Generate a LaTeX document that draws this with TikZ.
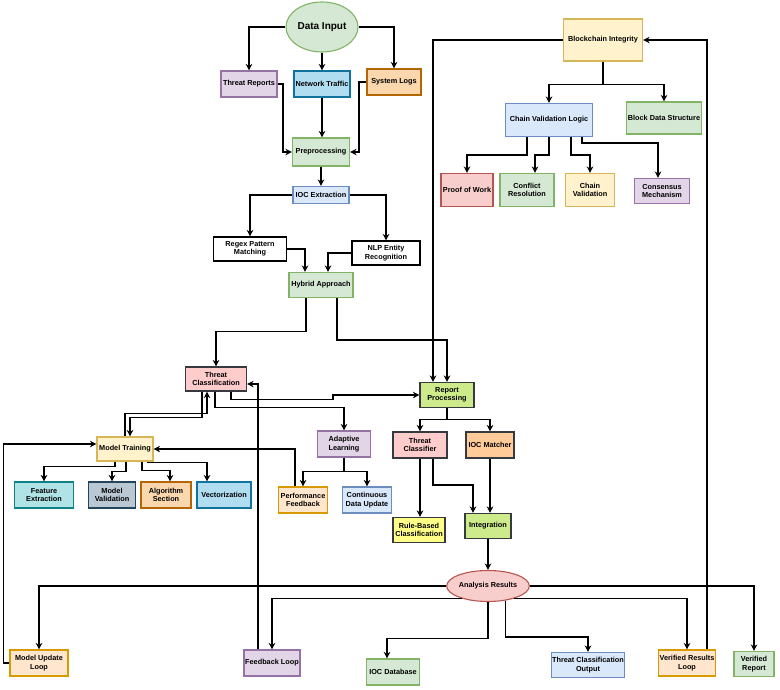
\documentclass[tikz,border=0pt]{standalone}
\usepackage{fontspec}
\setmainfont{Liberation Sans}
\usepackage{tikz}
\usepackage{xcolor}
\usetikzlibrary{shapes.geometric, arrows.meta, calc}
\definecolor{GreenFill}{HTML}{D5E8D4}
\definecolor{GreenLine}{HTML}{82B366}
\definecolor{PurpleFill}{HTML}{E1D5E7}
\definecolor{PurpleLine}{HTML}{9673A6}
\definecolor{SkyFill}{HTML}{B1DDF0}
\definecolor{SkyLine}{HTML}{10739E}
\definecolor{BlueFill}{HTML}{DAE8FC}
\definecolor{BlueLine}{HTML}{6C8EBF}
\definecolor{OrangeFill}{HTML}{FAD7AC}
\definecolor{OrangeLine}{HTML}{B46504}
\definecolor{GoldFill}{HTML}{FFF2CC}
\definecolor{GoldLine}{HTML}{D6B656}
\definecolor{AmberFill}{HTML}{FFE6CC}
\definecolor{AmberLine}{HTML}{D79B00}
\definecolor{RedFill}{HTML}{F8CECC}
\definecolor{RedLine}{HTML}{B85450}
\definecolor{PinkFill}{HTML}{FFCCCC}
\definecolor{LimeFill}{HTML}{CDEB8B}
\definecolor{PeachFill}{HTML}{FFCC99}
\definecolor{LemonFill}{HTML}{FFFF88}
\definecolor{DarkLine}{HTML}{36393D}
\definecolor{TealFill}{HTML}{B0E3E6}
\definecolor{TealLine}{HTML}{0E8088}
\definecolor{SlateFill}{HTML}{BAC8D3}
\definecolor{SlateLine}{HTML}{23445D}

\tikzset{
  box/.style={draw, rectangle, line width=1.1pt, align=center, inner sep=1pt,
    font=\bfseries\fontsize{7.3}{8.4}\selectfont},
  oval/.style={box, ellipse, inner sep=0pt},
  sz/.style 2 args={minimum width=#1, minimum height=#2},
  gbox/.style={fill=GreenFill, draw=GreenLine},
  pbox/.style={fill=PurpleFill, draw=PurpleLine},
  sbox/.style={fill=SkyFill, draw=SkyLine},
  bbox/.style={fill=BlueFill, draw=BlueLine},
  obox/.style={fill=OrangeFill, draw=OrangeLine},
  ybox/.style={fill=GoldFill, draw=GoldLine},
  abox/.style={fill=AmberFill, draw=AmberLine},
  rbox/.style={fill=RedFill, draw=RedLine},
  kbox/.style={fill=PinkFill, draw=DarkLine},
  lbox/.style={fill=LimeFill, draw=DarkLine},
  cbox/.style={fill=PeachFill, draw=DarkLine},
  mbox/.style={fill=LemonFill, draw=DarkLine},
  tbox/.style={fill=TealFill, draw=TealLine},
  vbox/.style={fill=SlateFill, draw=SlateLine},
  wbox/.style={fill=white, draw=black},
  arr/.style={line width=1.5pt, -{Stealth[length=6.5pt,width=6.5pt]}}
}

\begin{document}
\begin{tikzpicture}[x=1pt, y=-1pt]
  \path[use as bounding box, fill=white] (0,0) rectangle (780,689);

  % input side
  \node[oval, gbox, sz={72pt}{50pt}, font=\bfseries\fontsize{10}{11}\selectfont] (in) at (322,27) {Data Input};
  \node[box, pbox, sz={56pt}{26pt}] (trep) at (249,84) {Threat Reports};
  \node[box, sbox, sz={56pt}{26pt}] (ntraf) at (322,84) {Network Traffic};
  \node[box, obox, sz={54pt}{26pt}] (slog) at (394,82) {System Logs};
  \node[box, gbox, sz={57pt}{28pt}] (prep) at (321,152) {Preprocessing};
  \node[box, bbox, sz={56pt}{17pt}] (iocx) at (321,195) {IOC Extraction};
  \node[box, wbox, sz={73pt}{24pt}] (regex) at (250,249) {Regex Pattern\\Matching};
  \node[box, wbox, sz={68pt}{24pt}] (nlp) at (386,253) {NLP Entity\\Recognition};
  \node[box, gbox, sz={64pt}{25pt}] (hyb) at (321,285) {Hybrid Approach};
  \node[box, kbox, sz={61pt}{24pt}] (tcls) at (216,379) {Threat\\Classification};
  \node[box, lbox, sz={54pt}{25pt}] (rproc) at (447,395) {Report\\Processing};

  % blockchain
  \node[box, ybox, sz={79pt}{42pt}] (bci) at (603,40) {Blockchain Integrity};
  \node[box, bbox, sz={87pt}{33pt}] (cvl) at (549,120) {Chain Validation Logic};
  \node[box, gbox, sz={73pt}{32pt}] (bds) at (664,118) {Block Data Structure};
  \node[box, rbox, sz={52pt}{33pt}] (pow) at (467,190) {Proof of Work};
  \node[box, gbox, sz={54pt}{33pt}] (cres) at (527,190) {Conflict\\Resolution};
  \node[box, ybox, sz={49pt}{33pt}] (cval) at (590,190) {Chain\\Validation};
  \node[box, pbox, sz={55pt}{25pt}] (cons) at (662,191) {Consensus\\Mechanism};

  % training and learning
  \node[box, ybox, sz={56pt}{24pt}] (mtrain) at (125,449) {Model Training};
  \node[box, tbox, sz={59pt}{26pt}] (fext) at (44,495) {Feature\\Extraction};
  \node[box, vbox, sz={47pt}{26pt}] (mval) at (112,495) {Model\\Validation};
  \node[box, obox, sz={50pt}{26pt}] (algo) at (166,495) {Algorithm\\Section};
  \node[box, sbox, sz={54pt}{26pt}] (vect) at (224,495) {Vectorization};
  \node[box, pbox, sz={53pt}{26pt}] (adapt) at (344,444) {Adaptive\\Learning};
  \node[box, abox, sz={49pt}{26pt}] (pfb) at (303,500) {Performance\\Feedback};
  \node[box, bbox, sz={49pt}{26pt}] (cdu) at (367,500) {Continuous\\Data Update};

  % report side
  \node[box, kbox, sz={54pt}{26pt}] (tcf) at (420,445) {Threat\\Classifier};
  \node[box, cbox, sz={48pt}{26pt}] (iocm) at (490,445) {IOC Matcher};
  \node[box, mbox, sz={52pt}{25pt}] (rbc) at (419,530) {Rule-Based\\Classification};
  \node[box, lbox, sz={46pt}{25pt}] (integ) at (488,526) {Integration};
  \node[oval, rbox, sz={77pt}{31pt}] (ares) at (488,586) {Analysis Results};

  % outputs
  \node[box, abox, sz={58pt}{26pt}] (mul) at (39,663) {Model Update\\Loop};
  \node[box, pbox, sz={56pt}{26pt}] (fbl) at (272,663) {Feedback Loop};
  \node[box, gbox, sz={53pt}{26pt}] (iocdb) at (393,672) {IOC Database};
  \node[box, bbox, sz={73pt}{25pt}] (tco) at (588,665) {Threat Classification\\Output};
  \node[box, abox, sz={57pt}{26pt}] (vrl) at (687,663) {Verified Results\\Loop};
  \node[box, gbox, sz={40pt}{25pt}] (vrep) at (754,664) {Verified\\Report};

  % connectors
  \draw[arr] (in.west) -| (trep.north);
  \draw[arr] (in.south) -- (ntraf.north);
  \draw[arr] (in.east) -| (slog.north);
  \draw[arr] (trep.east) -| ([xshift=-9]prep.west) -- (prep.west);
  \draw[arr] (ntraf.south) -- (ntraf.south |- prep.north);
  \draw[arr] (slog.west) -| ([xshift=9]prep.east) -- (prep.east);
  \draw[arr] (prep.south) -- (iocx.north);
  \draw[arr] (iocx.west) -| (regex.north);
  \draw[arr] (iocx.east) -| (nlp.north);
  \draw[arr] (regex.east) -| ([xshift=-16]hyb.north);
  \draw[arr] (nlp.west) -| ([xshift=7]hyb.north);
  \draw[arr] ([xshift=-15]hyb.south) |- ([yshift=35]tcls.north) -- (tcls.north);
  \draw[arr] ([xshift=16]hyb.south) |- ([yshift=42]rproc.north) -- (rproc.north);

  \draw[arr] (bci.west) -| ([xshift=-14]rproc.north);
  \draw[arr] (bci.south) -- ++(0,23) -| (cvl.north);
  \draw[arr] (bci.south) -- ++(0,23) -| (bds.north);
  \draw[arr] ([xshift=-22]cvl.south) |- ([yshift=18]pow.north) -- (pow.north);
  \draw[arr] (cvl.south) |- ([xshift=8,yshift=18]cres.north) -- ([xshift=8]cres.north);
  \draw[arr] ([xshift=22]cvl.south) |- ([yshift=18]cval.north) -- (cval.north);
  \draw[arr] ([xshift=33]cvl.south) |- ([xshift=-4,yshift=35]cons.north) -- ([xshift=-4]cons.north);

  \draw[arr] ([xshift=-14]tcls.south) |- ([xshift=5,yshift=19]mtrain.north) -- ([xshift=5]mtrain.north);
  \draw[arr] (mtrain.north) |- ([xshift=-9,yshift=-22]tcls.south) -- ([xshift=-9]tcls.south);
  \draw[arr] ([xshift=15]tcls.south) |- ++(102,8) |- (rproc.west);
  \draw[arr] ([xshift=-1]tcls.south) |- ([yshift=23]adapt.north) -- (adapt.north);
  \draw[arr] ([xshift=-14]fbl.north) |- ([yshift=-5]tcls.east);
  \draw[arr] (mul.west) -- ++(-6,0) |- ([yshift=5]mtrain.west);
  \draw[arr] ([xshift=-8]pfb.north) |- (mtrain.east);

  \draw[arr] ([xshift=-10]mtrain.south) |- ([yshift=15]fext.north) -- (fext.north);
  \draw[arr] ([xshift=1]mtrain.south) |- ([yshift=10]mval.north) -- (mval.north);
  \draw[arr] ([xshift=17]mtrain.south) |- ([xshift=4,yshift=11]algo.north) -- ([xshift=4]algo.north);
  \draw[arr] ([xshift=23]mtrain.south) |- ([xshift=-17,yshift=19]vect.north) -- ([xshift=-17]vect.north);
  \draw[arr] (adapt.south) |- ([yshift=15]pfb.north) -- (pfb.north);
  \draw[arr] (adapt.south) |- ([yshift=15]cdu.north) -- (cdu.north);

  \draw[arr] (rproc.south) |- ([yshift=12]tcf.north) -- (tcf.north);
  \draw[arr] (rproc.south) |- ([yshift=12]iocm.north) -- (iocm.north);
  \draw[arr] (tcf.south) -- (tcf.south |- rbc.north);
  \draw[arr] ([xshift=13]tcf.south) |- ([xshift=-15,yshift=28]integ.north) -- ([xshift=-15]integ.north);
  \draw[arr] (iocm.south) -- (iocm.south |- integ.north);
  \draw[arr] (integ.south) -- (ares.north);

  \draw[arr] (ares.west) -| (mul.north);
  \draw[arr] (ares.206) -| (fbl.north);
  \draw[arr] (ares.south) |- ([xshift=-6,yshift=20]iocdb.north) -- ([xshift=-6]iocdb.north);
  \draw[arr] (ares.320) |- ([yshift=15]tco.north) -- (tco.north);
  \draw[arr] (ares.334) -| (vrl.north);
  \draw[arr] (ares.east) -| (vrep.north);
  \draw[arr] ([xshift=20]vrl.north) |- (bci.east);
\end{tikzpicture}
\end{document}
